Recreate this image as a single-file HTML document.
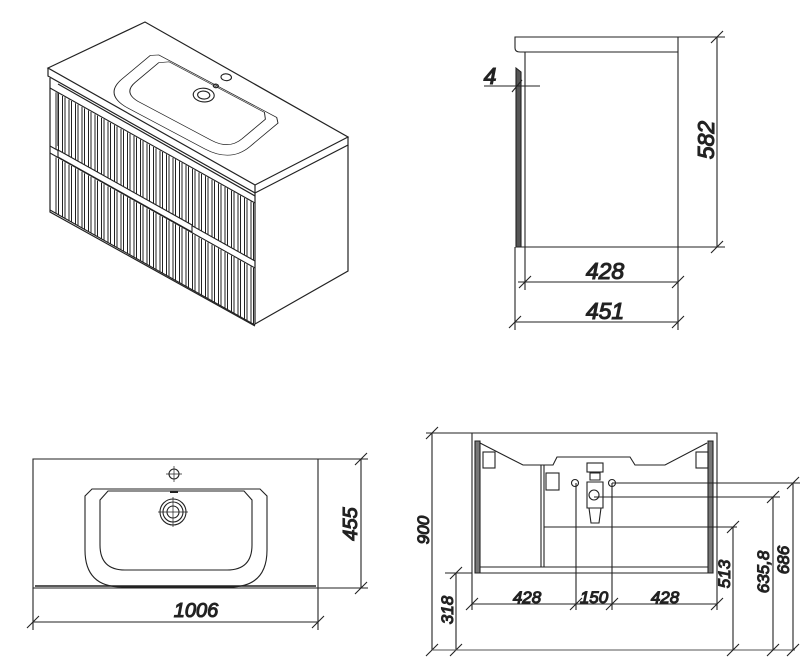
<!DOCTYPE html>
<html><head><meta charset="utf-8"><style>
html,body{margin:0;padding:0;background:#fff}
svg{display:block}
text{font-family:"Liberation Sans Narrow","Liberation Sans",sans-serif;font-style:italic;fill:#222}
</style></head><body>
<svg id="s" width="800" height="666" viewBox="0 0 800 666" xmlns="http://www.w3.org/2000/svg" fill="none" stroke="#222" stroke-width="1.1">
<defs>
<path id="basinO" d="M85,496 L92,489 L260,489 L267,496 L267,550 Q267,587 230,587 L122,587 Q85,587 85,550 Z"/>
<path id="basinI" d="M100,500 L108,491 L244,491 L252,500 L252,545 Q252,570 227,570 L125,570 Q100,570 100,545 Z"/>
</defs>
<g stroke-width="1.2">
<path d="M48,68 L145,22 L348,137 L255,185 Z"/>
<path d="M48,68 L48,76 L255,193 L348,145 L348,137"/>
<path d="M255,185 L255,193"/>
<path d="M348,145 L348,271 L255,324 L255,193"/>
<path d="M50,78 L50,212 L255,326"/>
<path d="M58,84 L255,196"/>
</g>
<g id="flutes" stroke-width="1"></g>
<g stroke-width="1.1">
<path d="M50,88 L255,203 M50,146 L255,261 M50,153 L255,268 M50,210 L255,325"/>
<path d="M58,150 L192,225 L192,232 L58,157 Z" fill="#fff"/>
<path d="M58,92 L58,146"/>
</g>
<g transform="matrix(200,106,67,-56,66,76)"><g transform="matrix(0.0035088,0,0,-0.0077519,-0.11579,4.5581)">
<use href="#basinO" vector-effect="non-scaling-stroke"/>
<use href="#basinI" vector-effect="non-scaling-stroke"/>
<circle cx="173" cy="512" r="12" vector-effect="non-scaling-stroke"/>
<circle cx="173" cy="512" r="7" vector-effect="non-scaling-stroke"/>
<circle cx="174" cy="470" r="6" vector-effect="non-scaling-stroke"/>
<circle cx="174" cy="490" r="3" vector-effect="non-scaling-stroke"/>
</g></g>

<g stroke-width="1.1">
<path d="M515,48 L515,37 L678,37 L678,330"/>
<path d="M515,48 Q515,52 520,52 L678,52"/>
<path d="M525,52 L525,290"/>
<path d="M516,68 L521,72 L521,247 L516,247 Z" fill="#555"/>
<path d="M516,247 L678,247"/>
<path d="M515,247 L515,330"/>
<path d="M678,37 L725,37 M678,247 L725,247 M717,37 L717,247 M711,43 L723,31 M711,253 L723,241"/>
<path d="M518,282 L678,282 M519,288 L531,276 M672,288 L684,276"/>
<path d="M515,322 L678,322 M509,328 L521,316 M672,328 L684,316"/>
<path d="M484,86 L540,86 M512,92 L522,80"/>
</g>
<text x="605" y="279" font-size="23" text-anchor="middle">428</text>
<text x="605" y="319" font-size="23" text-anchor="middle">451</text>
<text x="490" y="84" font-size="23" text-anchor="middle">4</text>
<text transform="translate(714,140) rotate(-90)" font-size="23" text-anchor="middle">582</text>

<g stroke-width="1.1">
<path d="M33,459 L318,459 L318,588 L33,588 Z"/>
<path d="M35,586 L316,586" stroke-width="1.6"/>
<use href="#basinO"/>
<use href="#basinI"/>
<circle cx="173" cy="512" r="13"/><circle cx="173" cy="512" r="10"/><circle cx="173" cy="512" r="6"/>
<path d="M158,512 L188,512 M173,497 L173,527" stroke-width="0.7"/>
<circle cx="174" cy="474" r="5"/>
<path d="M166,474 L182,474 M174,466 L174,482" stroke-width="0.7"/>
<path d="M170,492 L178,492" stroke-width="2"/>
<path d="M318,459 L368,459 M318,588 L368,588 M361,459 L361,588 M355,465 L367,453 M355,594 L367,582"/>
<path d="M33,588 L33,630 M318,588 L318,630 M33,622 L318,622 M27,628 L39,616 M312,628 L324,616"/>
</g>
<text x="196" y="617" font-size="20" text-anchor="middle">1006</text>
<text transform="translate(357,524) rotate(-90)" font-size="20" text-anchor="middle">455</text>

<g stroke-width="1.1">
<path d="M472,441 L472,433 L717,433 L717,441"/>
<path d="M472,441 L472,610 M717,441 L717,610"/>
<path d="M475,441 L475,573 L480,573 L480,441 Z" fill="#777"/>
<path d="M708,441 L708,573 L713,573 L713,441 Z" fill="#777"/>
<path d="M480,573 L708,573 M480,567 L708,567"/>
<path d="M480,443 L523,465 L553,465 L557,457 L630,457 L635,465 L665,465 L707,443"/>
<path d="M541,465 L541,567 M544,465 L544,567"/>
<path d="M544,527 L737,527"/>
<rect x="587" y="463" width="16" height="9"/>
<path d="M590,473 L600,473 L600,480 L590,480 Z M587,482 L603,482 L603,508 L587,508 Z M589,508 L601,508 L599,523 L591,523 Z"/>
<circle cx="594" cy="495" r="5"/>
<circle cx="575" cy="483" r="3.5"/><circle cx="612" cy="483" r="3.5"/>
<rect x="483" y="452" width="12" height="16"/><rect x="696" y="452" width="12" height="16"/><rect x="546" y="473" width="13" height="17"/>
<path d="M612,483 L800,483 M594,497 L780,497"/>
<path d="M576,483 L576,610 M612,483 L612,610"/>
<path d="M472,604 L717,604 M466,610 L478,598 M570,610 L582,598 M606,610 L618,598 M711,610 L723,598"/>
<path d="M426,433 L472,433 M432,433 L432,650 M426,439 L438,427 M426,656 L438,644"/>
<path d="M445,573 L472,573 M456,573 L456,650 M450,579 L462,567 M450,656 L462,644"/>
<path d="M432,650 L795,650" stroke="#555"/>
<path d="M733,527 L733,650 M727,533 L739,521 M727,656 L739,644"/>
<path d="M773,497 L773,650 M767,503 L779,491 M767,656 L779,644"/>
<path d="M793,483 L793,650 M787,489 L799,477 M787,656 L799,644"/>
</g>
<text x="527" y="603" font-size="17" text-anchor="middle">428</text>
<text x="594" y="603" font-size="17" text-anchor="middle">150</text>
<text x="665" y="603" font-size="17" text-anchor="middle">428</text>
<text transform="translate(429,530) rotate(-90)" font-size="17" text-anchor="middle">900</text>
<text transform="translate(453,610) rotate(-90)" font-size="17" text-anchor="middle">318</text>
<text transform="translate(730,574) rotate(-90)" font-size="17" text-anchor="middle">513</text>
<text transform="translate(769,572) rotate(-90)" font-size="17" text-anchor="middle">635,8</text>
<text transform="translate(789,560) rotate(-90)" font-size="17" text-anchor="middle">686</text>
</svg>
<script>
var g=document.getElementById('flutes'),s='';
for(var x=56;x<253;x+=6.5){var k=0.56*(x-50);
s+='<path d="M'+x+','+(89+k)+' L'+x+','+(146+k)+' M'+(x+2.5)+','+(89+k+1.4)+' L'+(x+2.5)+','+(146+k+1.4)+' M'+x+','+(154+k)+' L'+x+','+(210+k)+' M'+(x+2.5)+','+(154+k+1.4)+' L'+(x+2.5)+','+(210+k+1.4)+'"/>';}
g.innerHTML=s;
</script>
</body></html>
